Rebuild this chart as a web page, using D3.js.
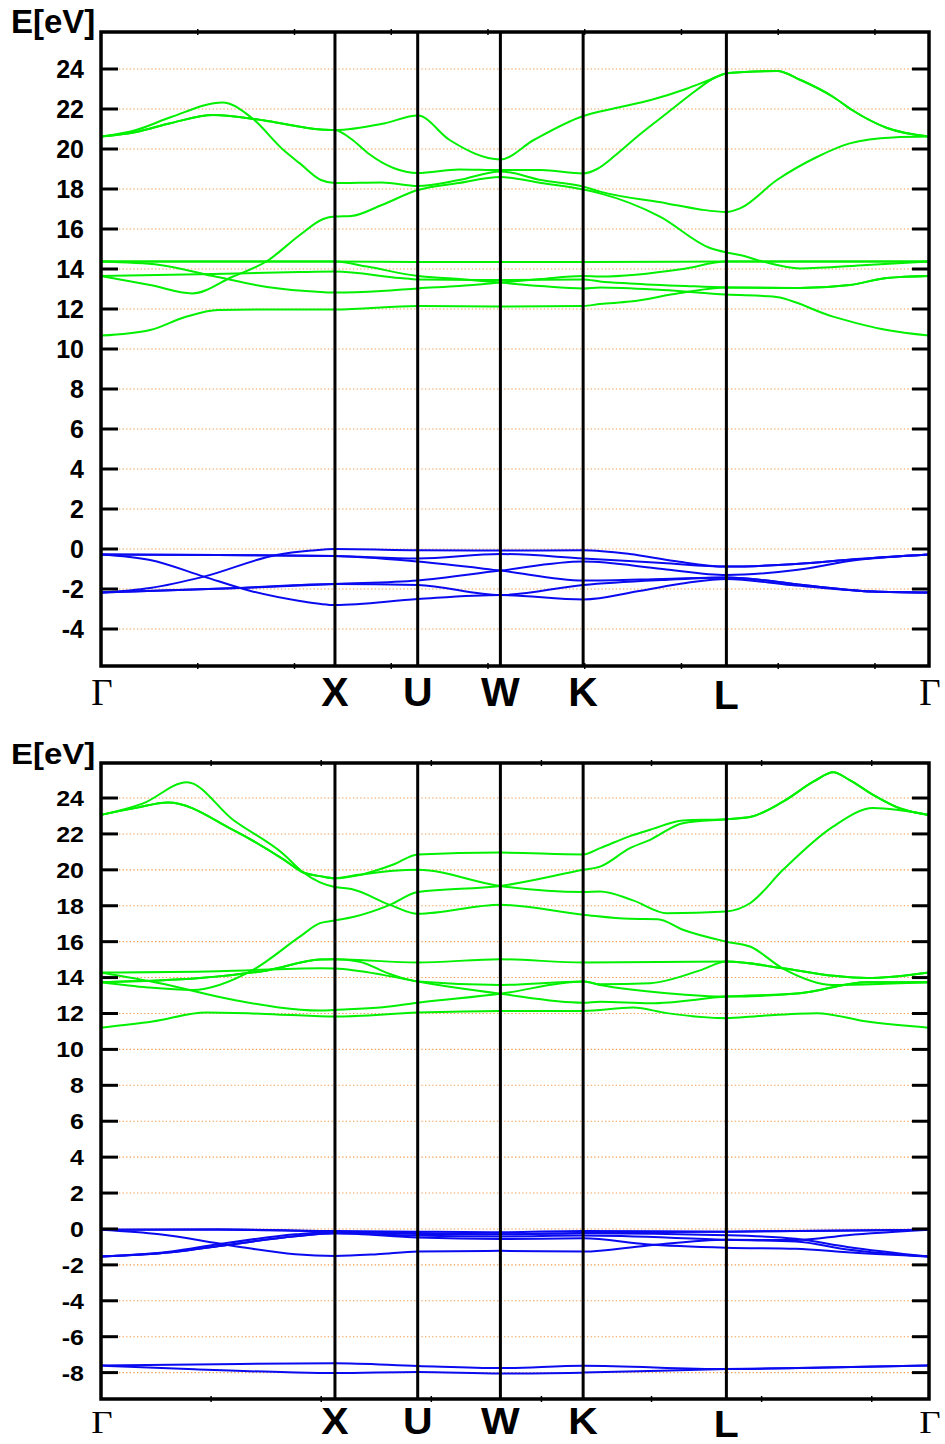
<!DOCTYPE html>
<html>
<head>
<meta charset="utf-8">
<script src="https://cdn.jsdelivr.net/npm/d3@7"></script>
<style>
  html, body { margin: 0; padding: 0; background: #fff; }
  svg { display: block; }
</style>
</head>
<body>
<div id="chart"></div>
<script>
// high symmetry points along the fcc path (distance in units of 2pi/a)
const kLabels = ['Γ', 'X', 'U', 'W', 'K', 'L', 'Γ'];
const kPoints = [0, 1, 1.3536, 1.7071, 2.0607, 2.6730, 3.5390];

const topTicks = [-4, -2, 0, 2, 4, 6, 8, 10, 12, 14, 16, 18, 20, 22, 24];
const bottomTicks = [-8, -6, -4, -2, 0, 2, 4, 6, 8, 10, 12, 14, 16, 18, 20, 22, 24];

// upper plot: bands as [k, E]
const topConduction = [
    [[0,20.62],[0.15,20.85],[0.3,21.3],[0.48,21.7],[0.71,21.4],[0.94,20.98],[1,20.95],[1.21,21.28],[1.354,21.67],[1.49,20.45],[1.707,19.48],[1.85,20.45],[2.061,21.65],[2.2,22.05],[2.35,22.45],[2.5,23.0],[2.6,23.45],[2.673,23.78],[2.75,23.85],[2.89,23.9],[2.99,23.45],[3.13,22.6],[3.21,21.95],[3.36,21.05],[3.539,20.62]],
    [[0,20.62],[0.15,20.85],[0.3,21.3],[0.48,21.7],[0.71,21.4],[0.94,20.98],[1,20.95],[1.07,20.5],[1.14,19.8],[1.25,19.05],[1.354,18.8],[1.53,18.98],[1.707,18.95],[1.88,18.95],[2.061,18.78],[2.12,19.0],[2.2,19.7],[2.3,20.7],[2.42,21.8],[2.54,22.9],[2.62,23.55],[2.673,23.78],[2.75,23.85],[2.89,23.9],[2.99,23.45],[3.13,22.6],[3.21,21.95],[3.36,21.05],[3.539,20.62]],
    [[0,20.62],[0.15,20.95],[0.3,21.6],[0.52,22.33],[0.64,21.6],[0.78,19.95],[0.85,19.28],[0.94,18.45],[1,18.3],[1.2,18.33],[1.354,18.15],[1.53,18.45],[1.707,18.88],[1.88,18.45],[2.061,18.12],[2.133,17.87],[2.419,17.28],[2.56,16.98],[2.673,16.85],[2.731,17.03],[2.889,18.45],[3.06,19.6],[3.2,20.28],[3.385,20.58],[3.539,20.62]],
    [[0,13.65],[0.21,13.2],[0.39,12.78],[0.56,13.6],[0.71,14.4],[0.85,15.7],[0.95,16.5],[1,16.62],[1.07,16.65],[1.2,17.2],[1.354,17.95],[1.53,18.3],[1.707,18.6],[1.88,18.3],[2.061,17.97],[2.133,17.78],[2.389,16.62],[2.603,15.05],[2.673,14.83],[2.731,14.7],[2.829,14.37],[2.987,14.03],[3.274,14.2],[3.539,14.37]],
    [[0,14.37],[1,14.37],[1.354,14.35],[1.707,14.35],[2.061,14.35],[2.673,14.37],[3.539,14.37]],
    [[0,14.37],[1,14.37],[1.137,14.12],[1.354,13.65],[1.53,13.5],[1.707,13.32],[1.88,13.15],[2.061,13.03],[2.133,13.08],[2.4,12.95],[2.673,12.72],[2.872,12.62],[3.129,11.62],[3.359,10.95],[3.539,10.67]],
    [[0,14.37],[0.252,14.2],[0.479,13.65],[0.71,13.1],[0.94,12.85],[1,12.82],[1.2,12.9],[1.354,13.03],[1.53,13.15],[1.707,13.32],[1.88,13.5],[2.061,13.65],[2.133,13.62],[2.487,14.0],[2.673,14.37],[3.539,14.37]],
    [[0,13.65],[0.479,13.75],[0.85,13.85],[1,13.87],[1.278,13.55],[1.354,13.48],[1.707,13.45],[2.061,13.48],[2.133,13.38],[2.261,13.28],[2.5,13.15],[2.673,13.08],[2.987,13.05],[3.2,13.2],[3.359,13.55],[3.539,13.65]],
    [[0,10.67],[0.21,10.95],[0.36,11.6],[0.5,11.95],[0.7,11.98],[1,11.97],[1.354,12.15],[1.707,12.12],[2.061,12.15],[2.133,12.25],[2.261,12.37],[2.475,12.8],[2.673,13.08],[2.987,13.05],[3.2,13.2],[3.359,13.55],[3.539,13.65]]
];

const topValence = [
    [[0,-0.27],[0.5,-0.3],[1,-0.35],[1.354,-0.47],[1.707,-0.25],[2.061,-0.47],[2.4,-0.7],[2.673,-0.88],[2.97,-0.75],[3.23,-0.5],[3.539,-0.27]],
    [[0,-0.27],[0.5,-0.3],[1,-0.35],[1.354,-0.63],[1.707,-1.08],[2.061,-1.58],[2.4,-1.5],[2.673,-1.42],[3.0,-1.8],[3.3,-2.13],[3.539,-2.18]],
    [[0,-0.27],[0.21,-0.55],[0.44,-1.38],[0.64,-2.1],[0.85,-2.6],[0.94,-2.75],[1,-2.8],[1.354,-2.5],[1.707,-2.3],[2.061,-2.52],[2.3,-2.1],[2.5,-1.7],[2.673,-1.5],[2.95,-1.8],[3.3,-2.13],[3.539,-2.18]],
    [[0,-2.18],[0.21,-1.95],[0.44,-1.38],[0.75,-0.3],[0.9,-0.08],[1,0],[1.354,-0.06],[1.707,-0.08],[2.061,-0.06],[2.26,-0.25],[2.45,-0.6],[2.673,-0.88],[2.97,-0.75],[3.23,-0.5],[3.539,-0.27]],
    [[0,-2.18],[0.59,-1.95],[1,-1.75],[1.354,-1.58],[1.707,-1.08],[2.061,-0.63],[2.4,-1.0],[2.673,-1.3],[2.97,-1.05],[3.23,-0.55],[3.539,-0.27]],
    [[0,-2.18],[0.59,-1.95],[1,-1.75],[1.354,-1.8],[1.707,-2.3],[2.061,-1.8],[2.4,-1.55],[2.673,-1.42],[3.0,-1.8],[3.3,-2.13],[3.539,-2.18]]
];

// lower plot
const bottomConduction = [
    [[0,23.06],[0.15,23.45],[0.286,23.75],[0.564,22.23],[0.778,20.6],[0.865,19.85],[0.936,19.65],[1,19.53],[1.1,19.7],[1.25,20.3],[1.354,20.86],[1.707,20.96],[2.061,20.86],[2.133,21.21],[2.261,21.88],[2.347,22.23],[2.487,22.75],[2.673,22.82],[2.774,22.94],[2.915,23.8],[3.05,24.95],[3.129,25.44],[3.2,25.0],[3.3,24.18],[3.42,23.4],[3.539,23.06]],
    [[0,23.06],[0.15,23.45],[0.286,23.75],[0.564,22.23],[0.778,20.6],[0.865,19.85],[0.936,19.65],[1,19.53],[1.1,19.72],[1.25,19.95],[1.354,20.0],[1.707,19.1],[2.061,18.76],[2.133,18.79],[2.274,18.3],[2.419,17.58],[2.673,17.68],[2.774,18.14],[2.915,20.0],[3.129,22.41],[3.3,23.44],[3.539,23.06]],
    [[0,23.06],[0.18,23.7],[0.367,24.88],[0.564,22.79],[0.778,20.9],[0.865,19.85],[0.936,19.3],[1,19.04],[1.07,18.93],[1.235,18.05],[1.354,17.55],[1.707,18.05],[2.061,17.5],[2.261,17.27],[2.38,17.25],[2.487,16.66],[2.673,16.0],[2.774,15.73],[2.915,14.5],[3.129,13.59],[3.35,13.65],[3.539,13.74]],
    [[0,13.74],[0.2,13.45],[0.39,13.31],[0.65,14.43],[0.85,16.28],[0.936,17.03],[1,17.18],[1.077,17.37],[1.235,18.05],[1.354,18.76],[1.707,19.1],[2.061,20.0],[2.133,20.18],[2.261,21.21],[2.347,21.67],[2.487,22.6],[2.673,22.82],[2.774,22.94],[2.915,23.8],[3.05,24.95],[3.129,25.44],[3.2,25.0],[3.3,24.18],[3.42,23.4],[3.539,23.06]],
    [[0,14.28],[0.5,14.35],[0.936,14.52],[1,14.5],[1.205,14.15],[1.354,13.78],[1.707,13.1],[2.061,12.6],[2.133,12.66],[2.347,12.57],[2.673,12.94],[2.987,13.13],[3.274,13.74],[3.539,13.74]],
    [[0,13.74],[0.423,13.97],[0.71,14.4],[0.936,15.0],[1,15.02],[1.354,14.84],[1.707,15.02],[2.061,14.84],[2.673,14.89],[2.915,14.52],[3.129,14.1],[3.274,13.97],[3.539,14.28]],
    [[0,13.74],[0.423,13.97],[0.71,14.4],[0.936,15.0],[1,15.02],[1.1,14.9],[1.235,14.2],[1.354,13.78],[1.707,13.59],[2.061,13.78],[2.133,13.63],[2.347,13.69],[2.56,14.4],[2.673,14.89],[2.915,14.52],[3.129,14.1],[3.274,13.97],[3.539,14.28]],
    [[0,14.28],[0.252,13.68],[0.564,12.76],[0.936,12.16],[1,12.2],[1.205,12.35],[1.354,12.6],[1.707,13.1],[2.061,13.78],[2.133,13.59],[2.419,13.13],[2.673,12.94],[2.987,13.13],[3.274,13.74],[3.539,13.74]],
    [[0,11.21],[0.22,11.55],[0.45,12.05],[0.75,11.95],[1,11.83],[1.354,12.05],[1.707,12.14],[2.061,12.14],[2.274,12.33],[2.419,12.02],[2.673,11.74],[2.8,11.85],[3.06,12.02],[3.274,11.55],[3.539,11.21]]
];

const bottomValence = [
    [[0,-0.05],[0.5,-0.02],[1,-0.12],[1.354,-0.15],[1.707,-0.18],[2.061,-0.11],[2.673,-0.15],[3.1,-0.1],[3.539,-0.05]],
    [[0,-0.05],[0.25,-0.3],[0.54,-0.89],[0.83,-1.41],[1,-1.5],[1.18,-1.41],[1.354,-1.26],[1.707,-1.22],[2.061,-1.26],[2.33,-0.93],[2.673,-0.6],[2.97,-0.62],[3.19,-0.35],[3.539,-0.05]],
    [[0,-1.54],[0.3,-1.3],[0.54,-0.89],[0.83,-0.4],[1,-0.24],[1.354,-0.37],[1.707,-0.42],[2.061,-0.37],[2.673,-0.6],[2.97,-0.7],[3.19,-1.14],[3.539,-1.54]],
    [[0,-1.54],[0.3,-1.25],[0.5,-0.85],[0.83,-0.3],[1,-0.15],[1.354,-0.28],[1.707,-0.3],[2.061,-0.24],[2.673,-0.35],[2.97,-0.55],[3.19,-1.0],[3.539,-1.54]],
    [[0,-1.54],[0.3,-1.3],[0.54,-0.89],[0.83,-0.4],[1,-0.24],[1.354,-0.48],[1.707,-0.56],[2.061,-0.52],[2.33,-0.85],[2.673,-1.04],[2.97,-1.1],[3.19,-1.3],[3.539,-1.54]],
    [[0,-0.05],[0.5,-0.04],[1,-0.15],[1.354,-0.22],[1.707,-0.3],[2.061,-0.22],[2.673,-0.15],[3.1,-0.1],[3.539,-0.05]],
    [[0,-7.61],[0.5,-7.53],[1,-7.48],[1.354,-7.63],[1.707,-7.75],[2.061,-7.62],[2.673,-7.8],[3.1,-7.72],[3.539,-7.61]],
    [[0,-7.61],[0.4,-7.82],[0.8,-7.98],[1,-8.02],[1.354,-7.96],[1.707,-8.05],[2.061,-8.0],[2.673,-7.8],[3.1,-7.72],[3.539,-7.61]]
];

const width = 945;
const height = 1444;
const left = 101;
const right = 929;

const svg = d3.select('#chart')
    .append('svg')
    .attr('width', width)
    .attr('height', height);

const x = d3.scaleLinear()
    .domain([0, kPoints[kPoints.length - 1]])
    .range([left, right]);

const panels = [
    { top: 32, bottom: 666, domain: [-5.85, 25.85], ticks: topTicks, minorStep: 0.4135,
      conduction: topConduction, valence: topValence, sy: 1 },
    { top: 763, bottom: 1399, domain: [-9.47, 25.95], ticks: bottomTicks, minorStep: 0.4706,
      conduction: bottomConduction, valence: bottomValence, sy: 0.88 }
];

// text helper, lower plot is squeezed a little vertically
function addText(g, px, py, sy, str, opts) {
    return g.append('text')
        .attr('transform', `translate(${px},${py}) scale(1,${sy})`)
        .attr('text-anchor', opts.anchor || 'middle')
        .attr('font-family', opts.family || '"Liberation Sans", Arial, sans-serif')
        .attr('font-weight', opts.weight || 'bold')
        .attr('font-size', opts.size)
        .attr('fill', '#000')
        .text(str);
}

panels.forEach(p => {
    const g = svg.append('g');
    const y = d3.scaleLinear().domain(p.domain).range([p.bottom, p.top]);

    // Grid
    g.append('g')
        .selectAll('line')
        .data(p.ticks)
        .enter()
        .append('line')
        .attr('x1', left).attr('x2', right)
        .attr('y1', d => y(d)).attr('y2', d => y(d))
        .attr('stroke', '#f39a4c')
        .attr('stroke-width', 1.1)
        .attr('stroke-dasharray', '1.3,2.3');

    const line = d3.line()
        .x(d => x(d[0]))
        .y(d => y(d[1]))
        .curve(d3.curveMonotoneX);

    // Bands
    g.append('g')
        .selectAll('path')
        .data(p.conduction)
        .enter()
        .append('path')
        .attr('d', line)
        .attr('fill', 'none')
        .attr('stroke', '#00f000')
        .attr('stroke-width', 2);

    g.append('g')
        .selectAll('path')
        .data(p.valence)
        .enter()
        .append('path')
        .attr('d', line)
        .attr('fill', 'none')
        .attr('stroke', '#0a0af0')
        .attr('stroke-width', 2);

    // Symmetry point lines
    g.append('g')
        .selectAll('line')
        .data(kPoints.slice(1, -1))
        .enter()
        .append('line')
        .attr('x1', d => x(d)).attr('x2', d => x(d))
        .attr('y1', p.top).attr('y2', p.bottom)
        .attr('stroke', '#000')
        .attr('stroke-width', 3);

    // Frame
    g.append('rect')
        .attr('x', left).attr('y', p.top)
        .attr('width', right - left).attr('height', p.bottom - p.top)
        .attr('fill', 'none')
        .attr('stroke', '#000')
        .attr('stroke-width', 3.5);

    // small x tics on the frame
    const minor = d3.range(p.minorStep, x.domain()[1] - 0.05, p.minorStep);
    [p.top, p.bottom].forEach(edge => {
        g.append('g')
            .selectAll('line')
            .data(minor)
            .enter()
            .append('line')
            .attr('x1', d => x(d)).attr('x2', d => x(d))
            .attr('y1', edge - 3).attr('y2', edge + 3)
            .attr('stroke', '#000')
            .attr('stroke-width', 1.5);
    });

    // y tics both sides
    g.append('g')
        .selectAll('line')
        .data(p.ticks)
        .enter()
        .append('line')
        .attr('x1', left).attr('x2', left + 17)
        .attr('y1', d => y(d)).attr('y2', d => y(d))
        .attr('stroke', '#000')
        .attr('stroke-width', 3);

    g.append('g')
        .selectAll('line')
        .data(p.ticks)
        .enter()
        .append('line')
        .attr('x1', right - 17).attr('x2', right)
        .attr('y1', d => y(d)).attr('y2', d => y(d))
        .attr('stroke', '#000')
        .attr('stroke-width', 3);

    p.ticks.forEach(t => {
        addText(g, 84, y(t) + 9 * p.sy, p.sy, t, { anchor: 'end', size: 25 });
    });

    // E[eV] label
    addText(g, 11, p.top + 1 * p.sy, p.sy, 'E[eV]', { anchor: 'start', size: 33 });

    // k labels
    const base = p.bottom + 40 * p.sy;
    kPoints.forEach((k, i) => {
        const name = kLabels[i];
        if (name === 'Γ') {
            addText(g, x(k) + 1, base - 1, p.sy, name,
                { size: 37, weight: 'normal', family: '"Liberation Serif", "Times New Roman", serif' });
        } else {
            addText(g, x(k), base + (name === 'L' ? 3 : 0), p.sy, name, { size: 41 });
        }
    });
});
</script>
</body>
</html>
